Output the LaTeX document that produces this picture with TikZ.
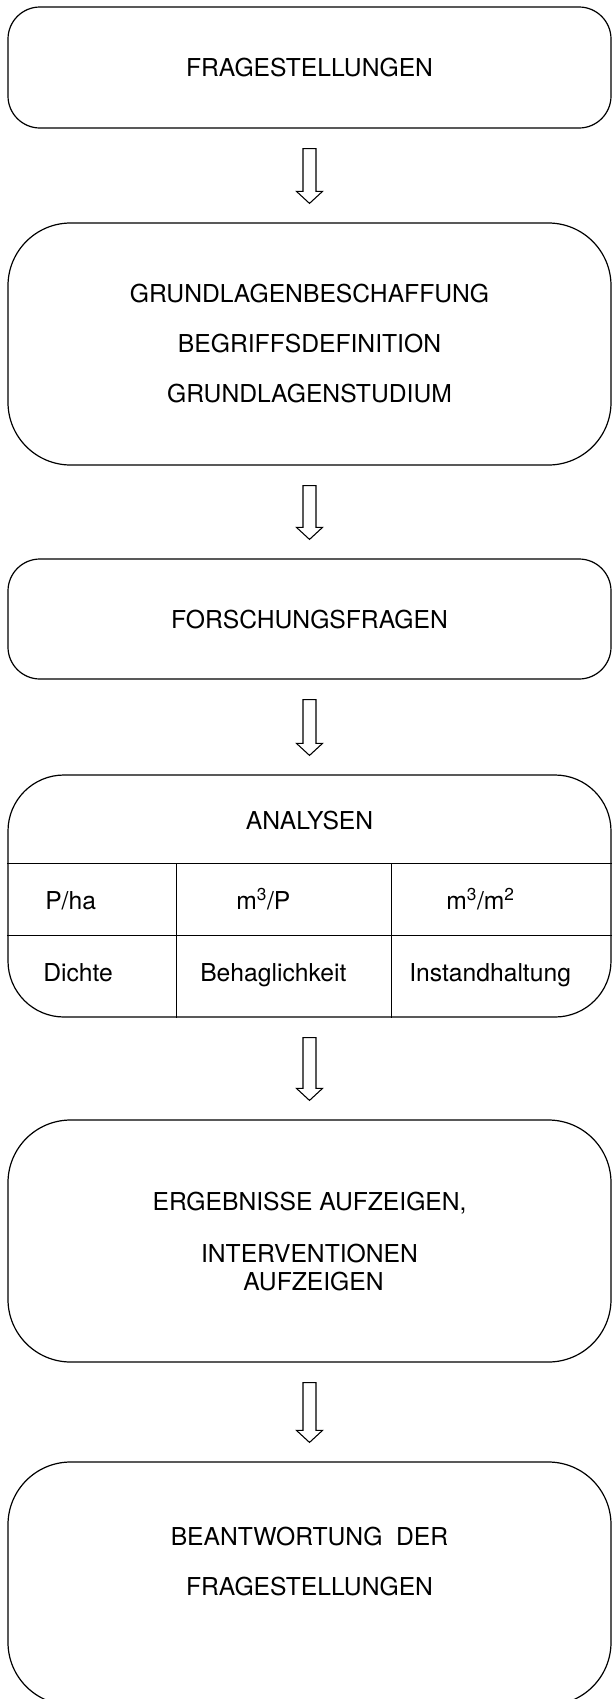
\documentclass[tikz,border=0pt]{standalone}
\usepackage{fontspec}
\setmainfont{TeX Gyre Heros}
\usetikzlibrary{calc}

% hollow block arrow between two stages
\newcommand{\hollowarrow}[2]{%
  \draw[line width=0.8pt]
    ($(#1.south)+(-6.5,20)$) -- ($(#2.north)+(-6.5,-31)$) -- ++(-6.5,0)
    -- ($(#2.north)+(0,-19)$) -- ($(#2.north)+(13,-31)$) -- ++(-6.5,0)
    -- ($(#1.south)+(6.5,20)$) -- cycle;}

\begin{document}
\begin{tikzpicture}[x=0.75pt,y=-0.75pt]
\useasboundingbox (0,0) rectangle (611,1699);

\begin{scope}[every node/.style={draw,line width=0.9pt,rounded corners=47pt,
      minimum width=452.25pt,minimum height=181.5pt,inner sep=0pt,align=center,
      font=\fontsize{18.5}{37.5}\selectfont}]
    \node (questions) at (309.5,67.5)   [rounded corners=24pt,minimum height=90.75pt] {FRAGESTELLUNGEN};
    \node (basics)    at (309.5,344)    {GRUNDLAGENBESCHAFFUNG\\BEGRIFFSDEFINITION\\GRUNDLAGENSTUDIUM};
    \node (research)  at (309.5,619)    [rounded corners=24pt,minimum height=90pt] {FORSCHUNGSFRAGEN};
    \node (analysis)  at (309.5,896)    [rounded corners=42pt] {};
    \node (results)   at (309.5,1241)   {ERGEBNISSE AUFZEIGEN,\\[2pt]INTERVENTIONEN\\[-17pt]\hspace*{6pt}AUFZEIGEN};
    \node (answer)    at (309.5,1583.5) [minimum height=182.25pt] {BEANTWORTUNG~~DER\\FRAGESTELLUNGEN\\[-15pt]\strut};
\end{scope}

% table inside the analysis box
\begin{scope}[every path/.style={line width=0.6pt}]
    \draw ($(analysis.north west)+(0,89)$)  -- ($(analysis.north east)+(0,89)$);
    \draw ($(analysis.north west)+(0,161)$) -- ($(analysis.north east)+(0,161)$);
    \draw ($(analysis.north west)+(169,89)$) -- ($(analysis.south west)+(169,0)$);
    \draw ($(analysis.north west)+(384,89)$) -- ($(analysis.south west)+(384,0)$);
\end{scope}

\begin{scope}[every node/.style={inner sep=0pt,font=\fontsize{18.5}{22}\selectfont}]
    \node (analysistitle) at (309.5,820) {ANALYSEN};
    \node (density)   at (45,909)  [anchor=base west] {P/ha};
    \node (densityname) at (43,981) [anchor=base west] {Dichte};
    \node (comfort)   at (236,909) [anchor=base west] {m\textsuperscript{3}/P};
    \node (comfortname) at (200,981) [anchor=base west] {Behaglichkeit};
    \node (upkeep)    at (446,909) [anchor=base west] {m\textsuperscript{3}/m\textsuperscript{2}};
    \node (upkeepname) at (409,981) [anchor=base west] {Instandhaltung};
\end{scope}

\hollowarrow{questions}{basics}
\hollowarrow{basics}{research}
\hollowarrow{research}{analysis}
\hollowarrow{analysis}{results}
\hollowarrow{results}{answer}
\end{tikzpicture}
\end{document}
